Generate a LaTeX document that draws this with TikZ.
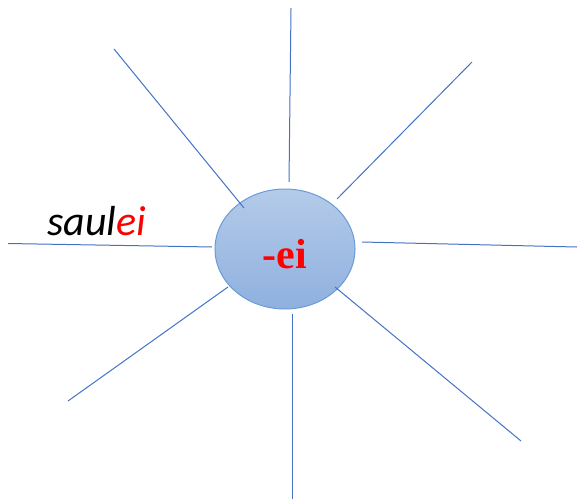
\documentclass[tikz,border=0pt]{standalone}
\usepackage{fontspec}
\setmainfont{Liberation Serif}
\newfontfamily\carlito{Carlito}
\definecolor{ray}{HTML}{4472C4}
\definecolor{topfill}{HTML}{B4CBE9}
\definecolor{botfill}{HTML}{8FB0DF}
\definecolor{rim}{HTML}{6A9BD6}
\begin{document}
\begin{tikzpicture}[x=1pt,y=-1pt,
  raystyle/.style={draw=ray,line width=1pt},
  hub/.style={ellipse,minimum width=140pt,minimum height=120pt,draw=rim,line width=1pt,top color=topfill,bottom color=botfill,inner sep=0pt}]
\useasboundingbox (0,0) rectangle (577,500);
\usetikzlibrary{shapes.geometric}
\node[hub] (c) at (285,249) {};
\node[text=red,font=\fontsize{42}{42}\selectfont\bfseries] (lab) at (285,254) {-ei};
\coordinate (t0) at (291,8);   \coordinate (t1) at (289,182);
\coordinate (ur0) at (472,62); \coordinate (ur1) at (337,199);
\coordinate (r0) at (577,247); \coordinate (r1) at (362,242);
\coordinate (lr0) at (521,441);\coordinate (lr1) at (335,287);
\coordinate (b0) at (292,499); \coordinate (b1) at (292,314);
\coordinate (ll0) at (68,401); \coordinate (ll1) at (228,287);
\coordinate (l0) at (8,243.5); \coordinate (l1) at (212,247);
\coordinate (ul0) at (114,49); \coordinate (ul1) at (244,208);
\foreach \a in {t,ur,r,lr,b,ll,l,ul} \draw[raystyle] (\a0) -- (\a1);
\node[anchor=base west,inner sep=0pt,font=\carlito\itshape\fontsize{42}{42}\selectfont] (word) at (47,235) {saul\textcolor{red}{ei}};
\end{tikzpicture}
\end{document}
